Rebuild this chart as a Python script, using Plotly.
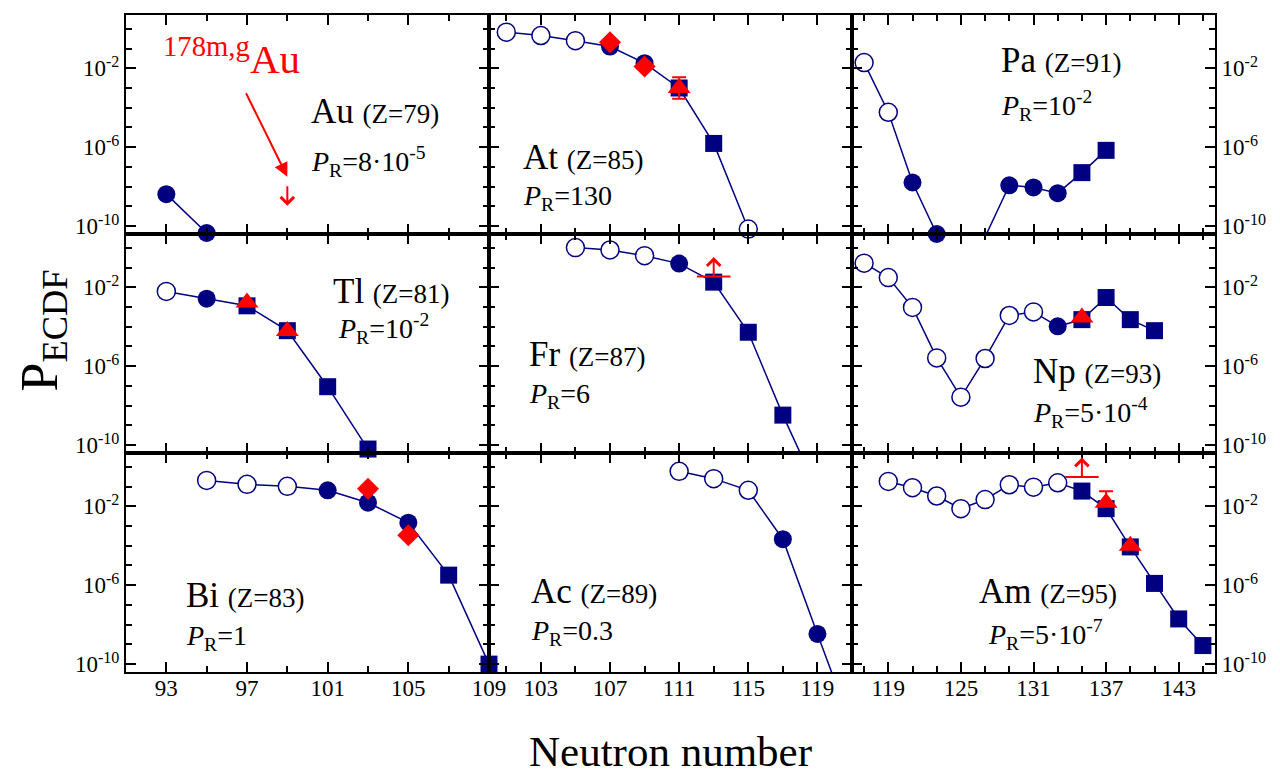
import plotly.graph_objects as go
from plotly.subplots import make_subplots

NAVY = '#000080'
RED = '#ff0000'
FONT = 'Liberation Serif, Times New Roman, serif'

# neutron number, log10(P_ECDF), marker kind
# kind: o = open circle, c = filled circle, s = square, - = off scale (line only)
au_n = [93, 95]
au_lp = [-8.38, -10.35]
au_kind = ['c', 'c']

at_n = [101, 103, 105, 107, 109, 111, 113, 115]
at_lp = [-0.17, -0.34, -0.60, -0.90, -1.74, -3.0, -5.81, -10.15]
at_kind = ['o', 'o', 'o', 'c', 'c', 's', 's', 'o']

pa_n = [117, 119, 121, 123, 125, 127, 129, 131, 133, 135, 137]
pa_lp = [-1.71, -4.23, -7.79, -10.4, -12.5, -10.55, -7.93, -8.04, -8.33, -7.29, -6.16]
pa_kind = ['o', 'o', 'c', 'c', '-', 'o', 'c', 'c', 'c', 's', 's']

tl_n = [93, 95, 97, 99, 101, 103]
tl_lp = [-2.21, -2.58, -2.94, -4.2, -7.04, -10.2]
tl_kind = ['o', 'c', 's', 's', 's', 's']

fr_n = [105, 107, 109, 111, 113, 115, 117, 119]
fr_lp = [0.01, -0.11, -0.40, -0.80, -1.74, -4.28, -8.48, -12.3]
fr_kind = ['o', 'o', 'o', 'c', 's', 's', 's', '-']

np_n = [117, 119, 121, 123, 125, 127, 129, 131, 133, 135, 137, 139, 141]
np_lp = [-0.78, -1.51, -3.02, -5.58, -7.57, -5.61, -3.43, -3.25, -3.98, -3.64, -2.52, -3.64, -4.2]
np_kind = ['o', 'o', 'o', 'o', 'o', 'o', 'o', 'o', 'c', 's', 's', 's', 's']

bi_n = [95, 97, 99, 101, 103, 105, 107, 109]
bi_lp = [-0.69, -0.89, -0.99, -1.19, -1.82, -2.83, -5.49, -10.0]
bi_kind = ['o', 'o', 'o', 'c', 'c', 'c', 's', 's']

ac_n = [111, 113, 115, 117, 119, 121]
ac_lp = [-0.23, -0.60, -1.19, -3.67, -8.47, -13.2]
ac_kind = ['o', 'o', 'o', 'c', 'c', '-']

am_n = [119, 121, 123, 125, 127, 129, 131, 133, 135, 137, 139, 141, 143, 145]
am_lp = [-0.74, -1.06, -1.48, -2.12, -1.66, -0.91, -1.03, -0.81, -1.23, -2.12, -4.06, -5.91, -7.71, -9.06]
am_kind = ['o', 'o', 'o', 'o', 'o', 'o', 'o', 'o', 's', 's', 's', 's', 's', 's']

# experimental points (red)
at_dia_n = [107, 109]
at_dia_lp = [-0.68, -1.91]
bi_dia_n = [103, 105]
bi_dia_lp = [-1.11, -3.47]

at_tri_n = [111]
at_tri_lp = [-3.0]
at_tri_up = [0.55]
at_tri_dn = [0.55]
tl_tri_n = [97, 99]
tl_tri_lp = [-2.77, -4.22]
np_tri_n = [135]
np_tri_lp = [-3.53]
am_tri_n = [137, 139]
am_tri_lp = [-1.82, -4.0]
am_tri_up = [0.58, 0.0]
am_tri_dn = [0.0, 0.0]

# limits: (N, log10 value, direction)
au_limit = (99, -7.98, 'down')
fr_limit = (113, -1.46, 'up')
am_limit = (135, -0.52, 'up')

# panel labels
elements = ['Au', 'At', 'Pa', 'Tl', 'Fr', 'Np', 'Bi', 'Ac', 'Am']
z_values = [79, 85, 91, 81, 87, 93, 83, 89, 95]
pr_texts = ['8·10<sup>-5</sup>', '130', '10<sup>-2</sup>', '10<sup>-2</sup>', '6',
            '5·10<sup>-4</sup>', '1', '0.3', '5·10<sup>-7</sup>']

series = [(au_n, au_lp, au_kind), (at_n, at_lp, at_kind), (pa_n, pa_lp, pa_kind),
          (tl_n, tl_lp, tl_kind), (fr_n, fr_lp, fr_kind), (np_n, np_lp, np_kind),
          (bi_n, bi_lp, bi_kind), (ac_n, ac_lp, ac_kind), (am_n, am_lp, am_kind)]

# label positions in page pixels (left, middle) for name and P_R line
name_pos = [(309, 111), (521, 158), (999, 60), (331, 291), (527, 354),
            (1031, 371), (184, 595), (529, 591), (977, 591)]
pr_pos = [(309, 162), (521, 197), (999, 105), (336, 328), (527, 395),
          (1031, 412), (184, 637), (529, 632), (986, 634)]

x_ranges = [[91, 109], [100, 121], [116, 146]]
x_tick0 = [93, 103, 119]
x_dtick = [4, 4, 6]
y_range = [-10.4, 0.7]

# the page body adds an 8 px margin, so the figure is sized to fit the window
OFF = 8
W, H = 1280 - OFF, 778 - OFF
L, R, T, B = 126 - OFF, 65, 15 - OFF, 106


def px(x):
    return (x - OFF - L) / (W - L - R)


def py(y):
    return 1 - (y - OFF - T) / (H - T - B)


fig = make_subplots(rows=3, cols=3, horizontal_spacing=0, vertical_spacing=0)

marker_style = {
    'o': dict(symbol='circle', size=18, color='white', line=dict(color=NAVY, width=1.5)),
    'c': dict(symbol='circle', size=18, color=NAVY, line=dict(color=NAVY, width=0)),
    's': dict(symbol='square', size=17, color=NAVY, line=dict(color=NAVY, width=0)),
}

for i, (n, lp, kind) in enumerate(series):
    row, col = i // 3 + 1, i % 3 + 1
    y = [10 ** v for v in lp]
    fig.add_trace(go.Scatter(x=n, y=y, mode='lines', line=dict(color=NAVY, width=1.5),
                             hoverinfo='skip'), row=row, col=col)
    for k in ['o', 'c', 's']:
        xs = [a for a, b in zip(n, kind) if b == k]
        ys = [10 ** v for v, b in zip(lp, kind) if b == k]
        if xs:
            fig.add_trace(go.Scatter(x=xs, y=ys, mode='markers', marker=marker_style[k],
                                     cliponaxis=False), row=row, col=col)

diamond = dict(symbol='diamond', size=17, color=RED)
triangle = dict(symbol='triangle-up', size=20, color=RED)

for n, lp, r, c in [(at_dia_n, at_dia_lp, 1, 2), (bi_dia_n, bi_dia_lp, 3, 1)]:
    fig.add_trace(go.Scatter(x=n, y=[10 ** v for v in lp], mode='markers', marker=diamond,
                             cliponaxis=False), row=r, col=c)

for n, lp, up, dn, r, c in [(at_tri_n, at_tri_lp, at_tri_up, at_tri_dn, 1, 2),
                            (tl_tri_n, tl_tri_lp, None, None, 2, 1),
                            (np_tri_n, np_tri_lp, None, None, 2, 3),
                            (am_tri_n, am_tri_lp, am_tri_up, am_tri_dn, 3, 3)]:
    err = None
    if up is not None:
        err = dict(type='data', symmetric=False, color=RED, thickness=2, width=7,
                   array=[10 ** (v + e) - 10 ** v for v, e in zip(lp, up)],
                   arrayminus=[10 ** v - 10 ** (v - e) for v, e in zip(lp, dn)])
    fig.add_trace(go.Scatter(x=n, y=[10 ** v for v in lp], mode='markers', marker=triangle,
                             error_y=err, cliponaxis=False), row=r, col=c)

# limit bars and arrows
annotations = []
for (n, lp, d), idx in [(au_limit, 1), (fr_limit, 5), (am_limit, 9)]:
    ax_name = '' if idx == 1 else str(idx)
    if d == 'up':
        fig.add_trace(go.Scatter(x=[n], y=[10 ** lp], mode='markers',
                                 marker=dict(symbol='line-ew', size=24,
                                             line=dict(color=RED, width=2)),
                                 cliponaxis=False),
                      row=(idx - 1) // 3 + 1, col=(idx - 1) % 3 + 1)
    annotations.append(dict(xref='x' + ax_name, yref='y' + ax_name, x=n, y=lp, text='',
                            showarrow=True, arrowside='start', startarrowhead=4,
                            startarrowsize=1.3, arrowwidth=2, arrowcolor=RED,
                            ax=0, ay=-21 if d == 'up' else 21, standoff=0, startstandoff=0))

# 178m,g Au pointer
annotations.append(dict(xref='paper', yref='paper', x=px(161), y=py(56), xanchor='left',
                        yanchor='middle', showarrow=False,
                        text='<sup>178m,g</sup>Au', font=dict(family=FONT, size=41, color=RED)))
annotations.append(dict(xref='x', yref='y', x=99, y=-7.5, text='', showarrow=True,
                        arrowhead=2, arrowsize=1.4, arrowwidth=2, arrowcolor=RED,
                        ax=-42, ay=-85, standoff=0))

for i in range(9):
    annotations.append(dict(xref='paper', yref='paper', x=px(name_pos[i][0]), y=py(name_pos[i][1]),
                            xanchor='left', yanchor='middle', showarrow=False,
                            text=f"{elements[i]} <span style='font-size:27px'>(Z={z_values[i]})</span>",
                            font=dict(family=FONT, size=35, color='black')))
    annotations.append(dict(xref='paper', yref='paper', x=px(pr_pos[i][0]), y=py(pr_pos[i][1]),
                            xanchor='left', yanchor='middle', showarrow=False,
                            text=f"<i>P</i><sub>R</sub>={pr_texts[i]}",
                            font=dict(family=FONT, size=28, color='black')))

annotations.append(dict(xref='paper', yref='paper', x=px(670), y=py(777), showarrow=False,
                        text='Neutron number', font=dict(family=FONT, size=43, color='black')))
annotations.append(dict(xref='paper', yref='paper', x=px(8), y=py(331), showarrow=False,
                        textangle=-90, text='P<sub>ECDF</sub>',
                        font=dict(family=FONT, size=52, color='black')))

tick_font = dict(family=FONT, size=23, color='black')
for r in range(1, 4):
    for c in range(1, 4):
        fig.update_xaxes(range=x_ranges[c - 1], tick0=x_tick0[c - 1], dtick=x_dtick[c - 1],
                         ticks='inside', ticklen=10, tickwidth=1.5, tickcolor='black',
                         showline=True, linewidth=2, linecolor='black', mirror='allticks',
                         showgrid=False, zeroline=False, showticklabels=(r == 3),
                         tickfont=tick_font, ticklabelstandoff=-6, automargin=False,
                         minor=dict(ticks='inside', ticklen=6, tickwidth=1.5, tickcolor='black',
                                    tick0=x_tick0[c - 1], dtick=2, showgrid=False),
                         row=r, col=c)
        fig.update_yaxes(type='log', range=y_range,
                         tickvals=[1e-10, 1e-6, 1e-2],
                         ticktext=['10<sup>-10</sup>', '10<sup>-6</sup>', '10<sup>-2</sup>'],
                         ticks='inside', ticklen=10, tickwidth=1.5, tickcolor='black',
                         showline=True, linewidth=2, linecolor='black', mirror='allticks',
                         showgrid=False, zeroline=False,
                         showticklabels=(c != 2), side='right' if c == 3 else 'left',
                         tickfont=tick_font, ticklabelstandoff=0, automargin=False,
                         minor=dict(ticks='inside', ticklen=6, tickwidth=1.5, tickcolor='black',
                                    tickmode='array', tickvals=[10 ** k for k in range(-10, 1)],
                                    showgrid=False),
                         row=r, col=c)

fig.update_layout(width=W, height=H, margin=dict(l=L, r=R, t=T, b=B, autoexpand=False),
                  template='none',
                  plot_bgcolor='white', paper_bgcolor='white', showlegend=False,
                  font=dict(family=FONT, color='black'), annotations=annotations)

fig.write_html("out.html")
